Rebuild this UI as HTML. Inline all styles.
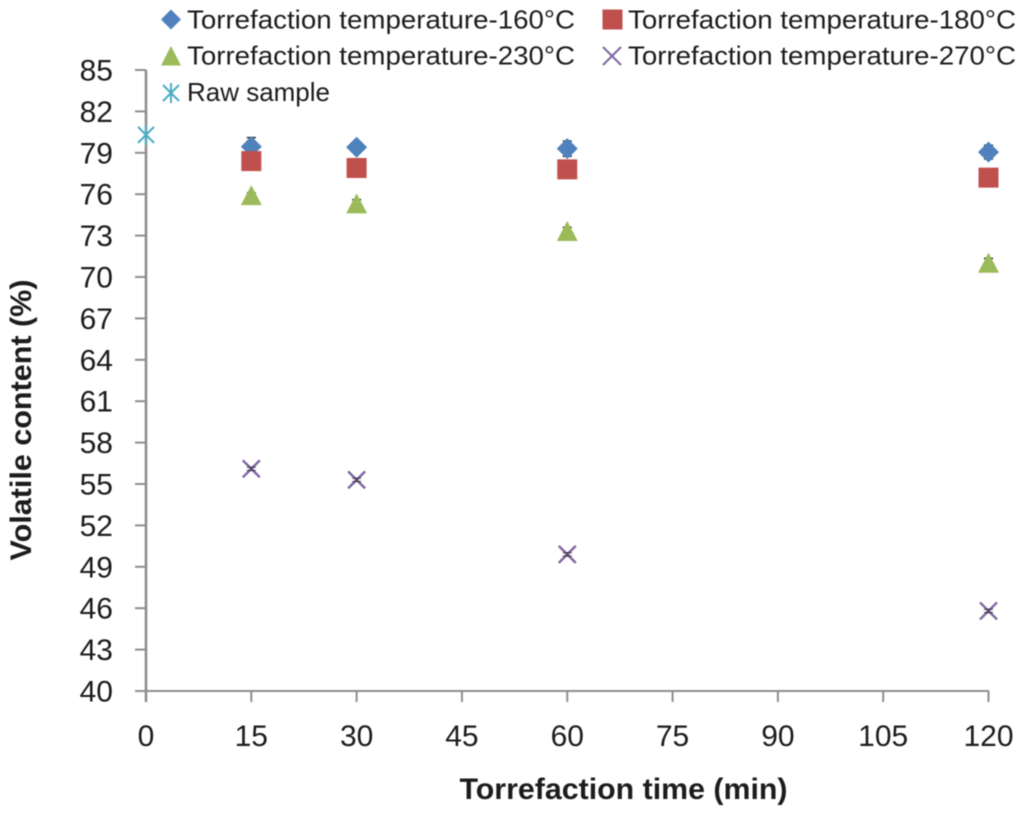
<!DOCTYPE html>
<html lang="en">
<head>
<meta charset="utf-8">
<title>Volatile content vs torrefaction time</title>
<style>
html,body{margin:0;padding:0;background:#fff;width:1024px;height:814px;overflow:hidden}
svg{display:block;filter:blur(0.5px)}
text{font-family:"Liberation Sans",sans-serif;fill:#1c1c1c}
</style>
</head>
<body>
<svg id="chart" width="1024" height="814" viewBox="0 0 1024 814" xmlns="http://www.w3.org/2000/svg">
  <g id="axes"></g>
  <g id="series"></g>
  <text x="623.5" y="799" text-anchor="middle" font-size="30" font-weight="bold" textLength="328" lengthAdjust="spacingAndGlyphs">Torrefaction time (min)</text>
  <text transform="translate(31,420) rotate(-90)" text-anchor="middle" font-size="30" font-weight="bold" textLength="281" lengthAdjust="spacingAndGlyphs">Volatile content (%)</text>
  <g>
    <g>
      <polygon points="171,9.5 181,19.5 171,29.5 161,19.5" fill="#4f81bd"/>
      <text x="187" y="28.5" font-size="26" textLength="388" lengthAdjust="spacingAndGlyphs">Torrefaction temperature-160°C</text>
    </g>
    <g>
      <rect x="602.5" y="9.5" width="20" height="20" fill="#c0504d"/>
      <text x="628" y="28.5" font-size="26" textLength="388" lengthAdjust="spacingAndGlyphs">Torrefaction temperature-180°C</text>
    </g>
    <g>
      <polygon points="171,46 181,65.5 161,65.5" fill="#9bbb59"/>
      <text x="187" y="64.5" font-size="26" textLength="388" lengthAdjust="spacingAndGlyphs">Torrefaction temperature-230°C</text>
    </g>
    <g>
      <path d="M603,47 L621,65 M621,47 L603,65" stroke="#8064a2" stroke-width="2" fill="none"/>
      <text x="628" y="64.5" font-size="26" textLength="388" lengthAdjust="spacingAndGlyphs">Torrefaction temperature-270°C</text>
    </g>
    <g>
      <path d="M163,85 L179,101 M179,85 L163,101 M171,83 L171,103" stroke="#4bacc6" stroke-width="2" fill="none"/>
      <text x="187" y="101" font-size="26" textLength="143" lengthAdjust="spacingAndGlyphs">Raw sample</text>
    </g>
  </g>
</svg>
<script>
const xTicks = [0, 15, 30, 45, 60, 75, 90, 105, 120];
const yTicks = [40, 43, 46, 49, 52, 55, 58, 61, 64, 67, 70, 73, 76, 79, 82, 85];
const times = [15, 30, 60, 120];
const values160 = [79.45, 79.4, 79.3, 79.05];
const values180 = [78.4, 77.9, 77.8, 77.2];
const values230 = [75.9, 75.3, 73.3, 71.0];
const values270 = [56.1, 55.3, 49.9, 45.8];
const errors160 = [0.65, 0.2, 0.55, 0.5];
const errors180 = [0.3, 0.1, 0.6, 0.2];
const errors230 = [0.2, 0.3, 0.3, 0.35];
const errors270 = [0.12, 0.12, 0.12, 0.12];
const rawTimes = [0];
const rawValues = [80.3];

const NS = 'http://www.w3.org/2000/svg';
const xScale = function (v) { return 146 + (v / 120) * 842.5; };
const yScale = function (v) { return 691 - ((v - 40) / 45) * 621; };
const axes = document.getElementById('axes');
const seriesLayer = document.getElementById('series');

function make(parent, tag, attrs, text) {
  const node = document.createElementNS(NS, tag);
  Object.keys(attrs).forEach(function (k) { node.setAttribute(k, attrs[k]); });
  if (text !== undefined) node.textContent = text;
  parent.appendChild(node);
  return node;
}

const axisColor = '#8e8e8e';
const yLine = make(axes, 'line', {x1: 146, y1: 70, x2: 146, y2: 702, stroke: axisColor, 'stroke-width': 2.6});


const xLine = make(axes, 'line', {x1: 135, y1: 691, x2: 989, y2: 691, stroke: axisColor, 'stroke-width': 2});



yTicks.forEach(function (t) {
  const y = yScale(t);
  const tick = make(axes, 'line', {x1: 135, y1: y, x2: 146, y2: y, stroke: axisColor, 'stroke-width': 2});
  
  
  const label = make(axes, 'text', {x: 113, y: y + 10.5, 'text-anchor': 'end', 'font-size': 30}, String(t));
  
  
});

xTicks.forEach(function (t) {
  const x = xScale(t);
  const tick = make(axes, 'line', {x1: x, y1: 691, x2: x, y2: 702, stroke: axisColor, 'stroke-width': 2});
  
  
  const label = make(axes, 'text', {x: x, y: 746, 'text-anchor': 'middle', 'font-size': 30}, String(t));
  
  
});

function errorBar(parent, t, v, e, opacity) {
  const x = xScale(t);
  const top = yScale(v + e);
  const bottom = yScale(v - e);
  const d = 'M' + x + ',' + top + ' L' + x + ',' + bottom +
    ' M' + (x - 4.5) + ',' + top + ' L' + (x + 4.5) + ',' + top +
    ' M' + (x - 4.5) + ',' + bottom + ' L' + (x + 4.5) + ',' + bottom;
  const bar = make(parent, 'path', {d: d, stroke: '#222', 'stroke-width': 1.4, fill: 'none', opacity: opacity});
  
  
}

const markers = {
  diamond: function (g, x, y) {
    make(g, 'polygon', {points: [x, y - 10.5, x + 10.5, y, x, y + 10.5, x - 10.5, y].join(','), fill: '#4f81bd'});
  },
  square: function (g, x, y) {
    make(g, 'rect', {x: x - 10, y: y - 10, width: 20, height: 20, fill: '#c0504d'});
  },
  triangle: function (g, x, y) {
    make(g, 'polygon', {points: [x, y - 10.5, x + 10.5, y + 9.5, x - 10.5, y + 9.5].join(','), fill: '#9bbb59'});
  },
  cross: function (g, x, y) {
    make(g, 'path', {d: 'M' + (x - 8.5) + ',' + (y - 8.5) + ' L' + (x + 8.5) + ',' + (y + 8.5) + ' M' + (x + 8.5) + ',' + (y - 8.5) + ' L' + (x - 8.5) + ',' + (y + 8.5), stroke: '#8064a2', 'stroke-width': 2.4, fill: 'none'});
  },
  star: function (g, x, y) {
    make(g, 'path', {d: 'M' + (x - 8) + ',' + (y - 8) + ' L' + (x + 8) + ',' + (y + 8) + ' M' + (x + 8) + ',' + (y - 8) + ' L' + (x - 8) + ',' + (y + 8) + ' M' + x + ',' + (y - 10) + ' L' + x + ',' + (y + 10), stroke: '#4bacc6', 'stroke-width': 2, fill: 'none'});
  }
};

function drawSeries(name, xs, ys, errs, marker) {
  const g = make(seriesLayer, 'g', {});
  
  
  xs.forEach(function (t, i) {
    if (marker === 'cross') {
      markers[marker](g, xScale(t), yScale(ys[i]));
      errorBar(g, t, ys[i], errs[i], 0.6);
    } else {
      if (errs) errorBar(g, t, ys[i], errs[i], 1);
      markers[marker](g, xScale(t), yScale(ys[i]));
    }
  });
}

drawSeries('series-160c', times, values160, errors160, 'diamond');
drawSeries('series-180c', times, values180, errors180, 'square');
drawSeries('series-230c', times, values230, errors230, 'triangle');
drawSeries('series-270c', times, values270, errors270, 'cross');
drawSeries('series-raw-sample', rawTimes, rawValues, null, 'star');
</script>
</body>
</html>
